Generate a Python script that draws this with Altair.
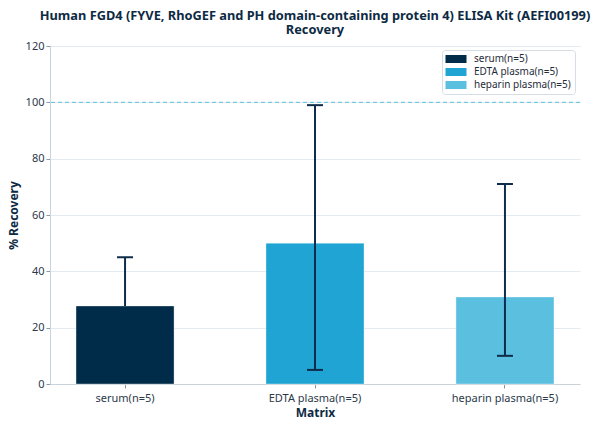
import altair as alt
import pandas as pd

categories = ["serum(n=5)", "EDTA plasma(n=5)", "heparin plasma(n=5)"]
recovery = [27.7, 50.0, 30.9]
err_low = [27.7, 5.0, 10.0]
err_high = [45.0, 99.0, 71.0]
colors = ["#002b49", "#1fa4d3", "#5bbfe0"]
reference = [100]

df = pd.DataFrame({"Matrix": categories, "Recovery": recovery,
                   "low": err_low, "high": err_high})
ref_df = pd.DataFrame({"ref": reference})

FONT = "Noto Sans"
TXT = "#2b3a4a"

x = alt.X("Matrix:N", sort=categories, title="Matrix",
          scale=alt.Scale(paddingInner=0.484, paddingOuter=0.137),
          axis=alt.Axis(labelAngle=0, labelFontSize=11, labelColor=TXT,
                        titleFontSize=12, titleFontWeight="bold", titleColor="#0d2a44",
                        domainColor="#c9d3dc", tickColor="#8a99a8", tickSize=4,
                        labelPadding=4, titlePadding=4, grid=False))

yscale = alt.Scale(domain=[0, 120])

bars = alt.Chart(df).mark_bar(strokeWidth=1, strokeOpacity=0.35, stroke="#ffffff").encode(
    x=x,
    y=alt.Y("Recovery:Q", scale=yscale, title="% Recovery",
            axis=alt.Axis(values=[0, 20, 40, 60, 80, 100, 120], labelFontSize=11,
                          labelColor=TXT, titleFontSize=12, titleFontWeight="bold",
                          titleColor="#0d2a44", gridColor="#e3eaf0", domainColor="#c9d3dc",
                          tickColor="#8a99a8", tickSize=4, titlePadding=5)),
    color=alt.Color("Matrix:N", sort=categories,
                    scale=alt.Scale(domain=categories, range=colors),
                    legend=alt.Legend(title=None, orient="none", legendX=392, legendY=4,
                                      fillColor="white", strokeColor="#d5dde5",
                                      cornerRadius=3, padding=4, labelFontSize=10,
                                      labelColor="#1f2d3a", labelFont=FONT,
                                      symbolType="M-2.1,-0.8L2.1,-0.8L2.1,0.8L-2.1,0.8Z",
                                      symbolSize=100, symbolStrokeWidth=0,
                                      symbolOffset=5, symbolOpacity=1, rowPadding=3,
                                      labelOffset=13)),
)

ref = alt.Chart(ref_df).mark_rule(color="#5bc0de", strokeDash=[4, 3], strokeWidth=1).encode(
    y=alt.Y("ref:Q", scale=yscale)
)

rules = alt.Chart(df).mark_rule(color="#0f2d4a", strokeWidth=2).encode(
    x=alt.X("Matrix:N", sort=categories),
    y=alt.Y("low:Q", scale=yscale),
    y2="high:Q",
)

cap_low = alt.Chart(df).transform_filter("datum.low < datum.Recovery").mark_tick(
    color="#0f2d4a", thickness=2, size=16, opacity=1).encode(
    x=alt.X("Matrix:N", sort=categories),
    y=alt.Y("low:Q", scale=yscale),
)
cap_high = alt.Chart(df).mark_tick(color="#0f2d4a", thickness=2, size=16, opacity=1).encode(
    x=alt.X("Matrix:N", sort=categories),
    y=alt.Y("high:Q", scale=yscale),
)

chart = alt.layer(ref, bars, rules, cap_low, cap_high).properties(
    width=530, height=338,
    autosize="none",
    padding={"left": 42, "top": 38, "right": 20, "bottom": 44},
    title=alt.TitleParams(
        ["Human FGD4 (FYVE, RhoGEF and PH domain-containing protein 4) ELISA Kit (AEFI00199)",
         "Recovery"],
        font=FONT, fontSize=12.8, fontWeight="bold", color="#0d2a44",
        anchor="middle", offset=3, lineHeight=14),
).configure(font=FONT).configure_view(stroke=None)

chart.save("out.html", embed_options={"renderer": "svg", "actions": False})
